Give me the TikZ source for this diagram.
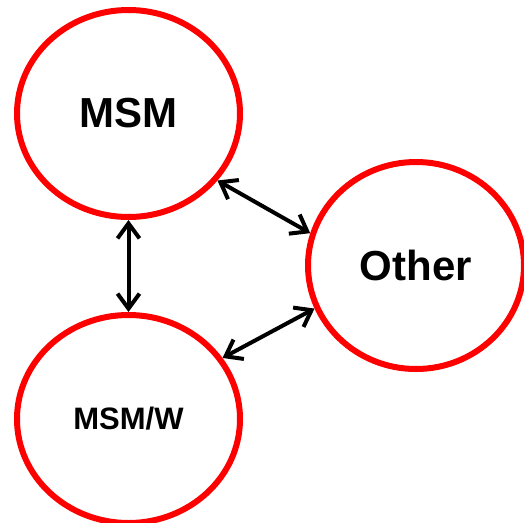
\documentclass[tikz,border=0pt]{standalone}
\usepackage{fontspec}
\setmainfont{Liberation Sans}
\usetikzlibrary{shapes.geometric,arrows.meta}
\begin{document}
\begin{tikzpicture}[x=1pt,y=-1pt,
  circ/.style={ellipse,draw=red,line width=6pt,inner sep=0pt,font=\bfseries},
  link/.style={line width=4pt,{Straight Barb[length=15pt,width=22pt]}-{Straight Barb[length=15pt,width=22pt]}}]
\useasboundingbox (0,0) rectangle (524,522);
\node[circ,minimum width=223pt,minimum height=207pt,font=\fontsize{42}{44}\bfseries\selectfont] (msm) at (128.5,113.5) {MSM};
\node[circ,minimum width=216pt,minimum height=207pt,font=\fontsize{42}{44}\bfseries\selectfont] (other) at (416,265.5) {Other};
\node[circ,minimum width=223pt,minimum height=208pt,font=\fontsize{31}{33}\bfseries\selectfont] (msmw) at (128.5,419) {MSM/W};
\draw[link] (msm.south) -- (msmw.north);
\draw[link] (msm.-37.8) -- (other.163.9);
\draw[link] (other.-157.5) -- (msmw.33.1);
\end{tikzpicture}
\end{document}
